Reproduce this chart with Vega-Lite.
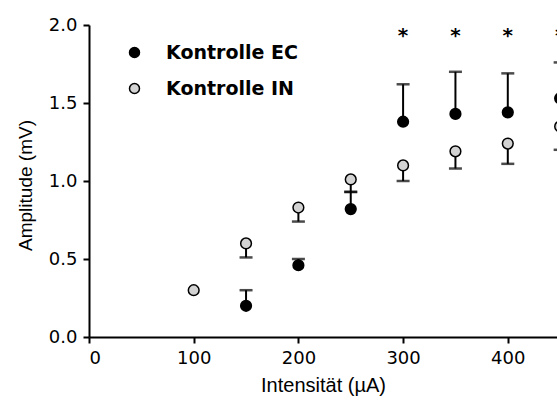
{
  "$schema": "https://vega.github.io/schema/vega-lite/v6.json",
  "autosize": "none",
  "width": 468,
  "height": 312,
  "padding": {"left": 89, "top": 25, "right": 0, "bottom": 69},
  "background": "white",
  "config": {
    "view": {"stroke": null},
    "axis": {
      "grid": false,
      "domainColor": "black",
      "domainWidth": 2,
      "tickColor": "black",
      "tickWidth": 2,
      "tickSize": 6,
      "labelColor": "black",
      "labelFont": "DejaVu Sans",
      "labelFontSize": 18,
      "titleFont": "Liberation Sans",
      "titleFontSize": 19,
      "titleFontWeight": "normal",
      "titleColor": "black"
    }
  },
  "data": {
    "values": [
      {"x": 100, "group": "Kontrolle IN", "v": 0.30, "err": null, "star": null},
      {"x": 150, "group": "Kontrolle EC", "v": 0.20, "err": 0.30, "star": null},
      {"x": 200, "group": "Kontrolle EC", "v": 0.46, "err": 0.50, "star": null},
      {"x": 250, "group": "Kontrolle EC", "v": 0.82, "err": 0.93, "star": null},
      {"x": 300, "group": "Kontrolle EC", "v": 1.38, "err": 1.62, "star": "*"},
      {"x": 350, "group": "Kontrolle EC", "v": 1.43, "err": 1.70, "star": "*"},
      {"x": 400, "group": "Kontrolle EC", "v": 1.44, "err": 1.69, "star": "*"},
      {"x": 450, "group": "Kontrolle EC", "v": 1.53, "err": 1.76, "star": "*"},
      {"x": 150, "group": "Kontrolle IN", "v": 0.60, "err": 0.51, "star": null},
      {"x": 200, "group": "Kontrolle IN", "v": 0.83, "err": 0.74, "star": null},
      {"x": 250, "group": "Kontrolle IN", "v": 1.01, "err": 0.93, "star": null},
      {"x": 300, "group": "Kontrolle IN", "v": 1.10, "err": 1.00, "star": null},
      {"x": 350, "group": "Kontrolle IN", "v": 1.19, "err": 1.08, "star": null},
      {"x": 400, "group": "Kontrolle IN", "v": 1.24, "err": 1.11, "star": null},
      {"x": 450, "group": "Kontrolle IN", "v": 1.35, "err": 1.20, "star": null}
    ]
  },
  "encoding": {
    "x": {
      "field": "x",
      "type": "quantitative",
      "scale": {"domain": [0, 447], "nice": false, "zero": false},
      "axis": {"values": [0, 100, 200, 300, 400], "format": "d", "title": "Intensität (µA)", "titleFontSize": 20, "labelPadding": 6, "titlePadding": 8}
    }
  },
  "layer": [
    {
      "transform": [{"filter": "datum.err != null"}],
      "mark": {"type": "rule", "color": "black", "strokeWidth": 2},
      "encoding": {
        "y": {"field": "v", "type": "quantitative", "scale": {"domain": [0, 2], "nice": false}, "axis": {"values": [0, 0.5, 1, 1.5, 2], "format": ".1f", "title": "Amplitude (mV)", "labelPadding": 6, "titleX": -58, "titleY": 160, "titleAngle": -90, "titleAlign": "center", "titleBaseline": "alphabetic"}},
        "y2": {"field": "err"}
      }
    },
    {
      "transform": [{"filter": "datum.err != null"}],
      "mark": {"type": "point", "shape": "stroke", "size": 169, "color": "black", "strokeWidth": 2.5, "filled": false},
      "encoding": {
        "y": {"field": "err", "type": "quantitative"}
      }
    },
    {
      "mark": {"type": "point", "filled": true, "size": 115, "stroke": "black", "strokeWidth": 1.5, "opacity": 1},
      "encoding": {
        "y": {"field": "v", "type": "quantitative"},
        "fill": {
          "field": "group",
          "type": "nominal",
          "scale": {"domain": ["Kontrolle EC", "Kontrolle IN"], "range": ["black", "#d3d3d3"]},
          "legend": {
            "title": null,
            "orient": "none",
            "legendX": 36,
            "legendY": 18,
            "padding": 0,
            "symbolType": "circle",
            "symbolSize": 100,
            "symbolStrokeColor": "black",
            "symbolStrokeWidth": 1.5,
            "labelFont": "DejaVu Sans",
            "labelFontWeight": "bold",
            "labelFontSize": 19,
            "labelColor": "black",
            "labelOffset": 22,
            "rowPadding": 16
          }
        }
      }
    },
    {
      "transform": [{"filter": "datum.star != null"}],
      "mark": {"type": "text", "font": "DejaVu Sans", "fontSize": 20, "fontWeight": "bold", "color": "black", "baseline": "middle"},
      "encoding": {
        "y": {"datum": 1.93, "type": "quantitative"},
        "text": {"field": "star"}
      }
    }
  ]
}
